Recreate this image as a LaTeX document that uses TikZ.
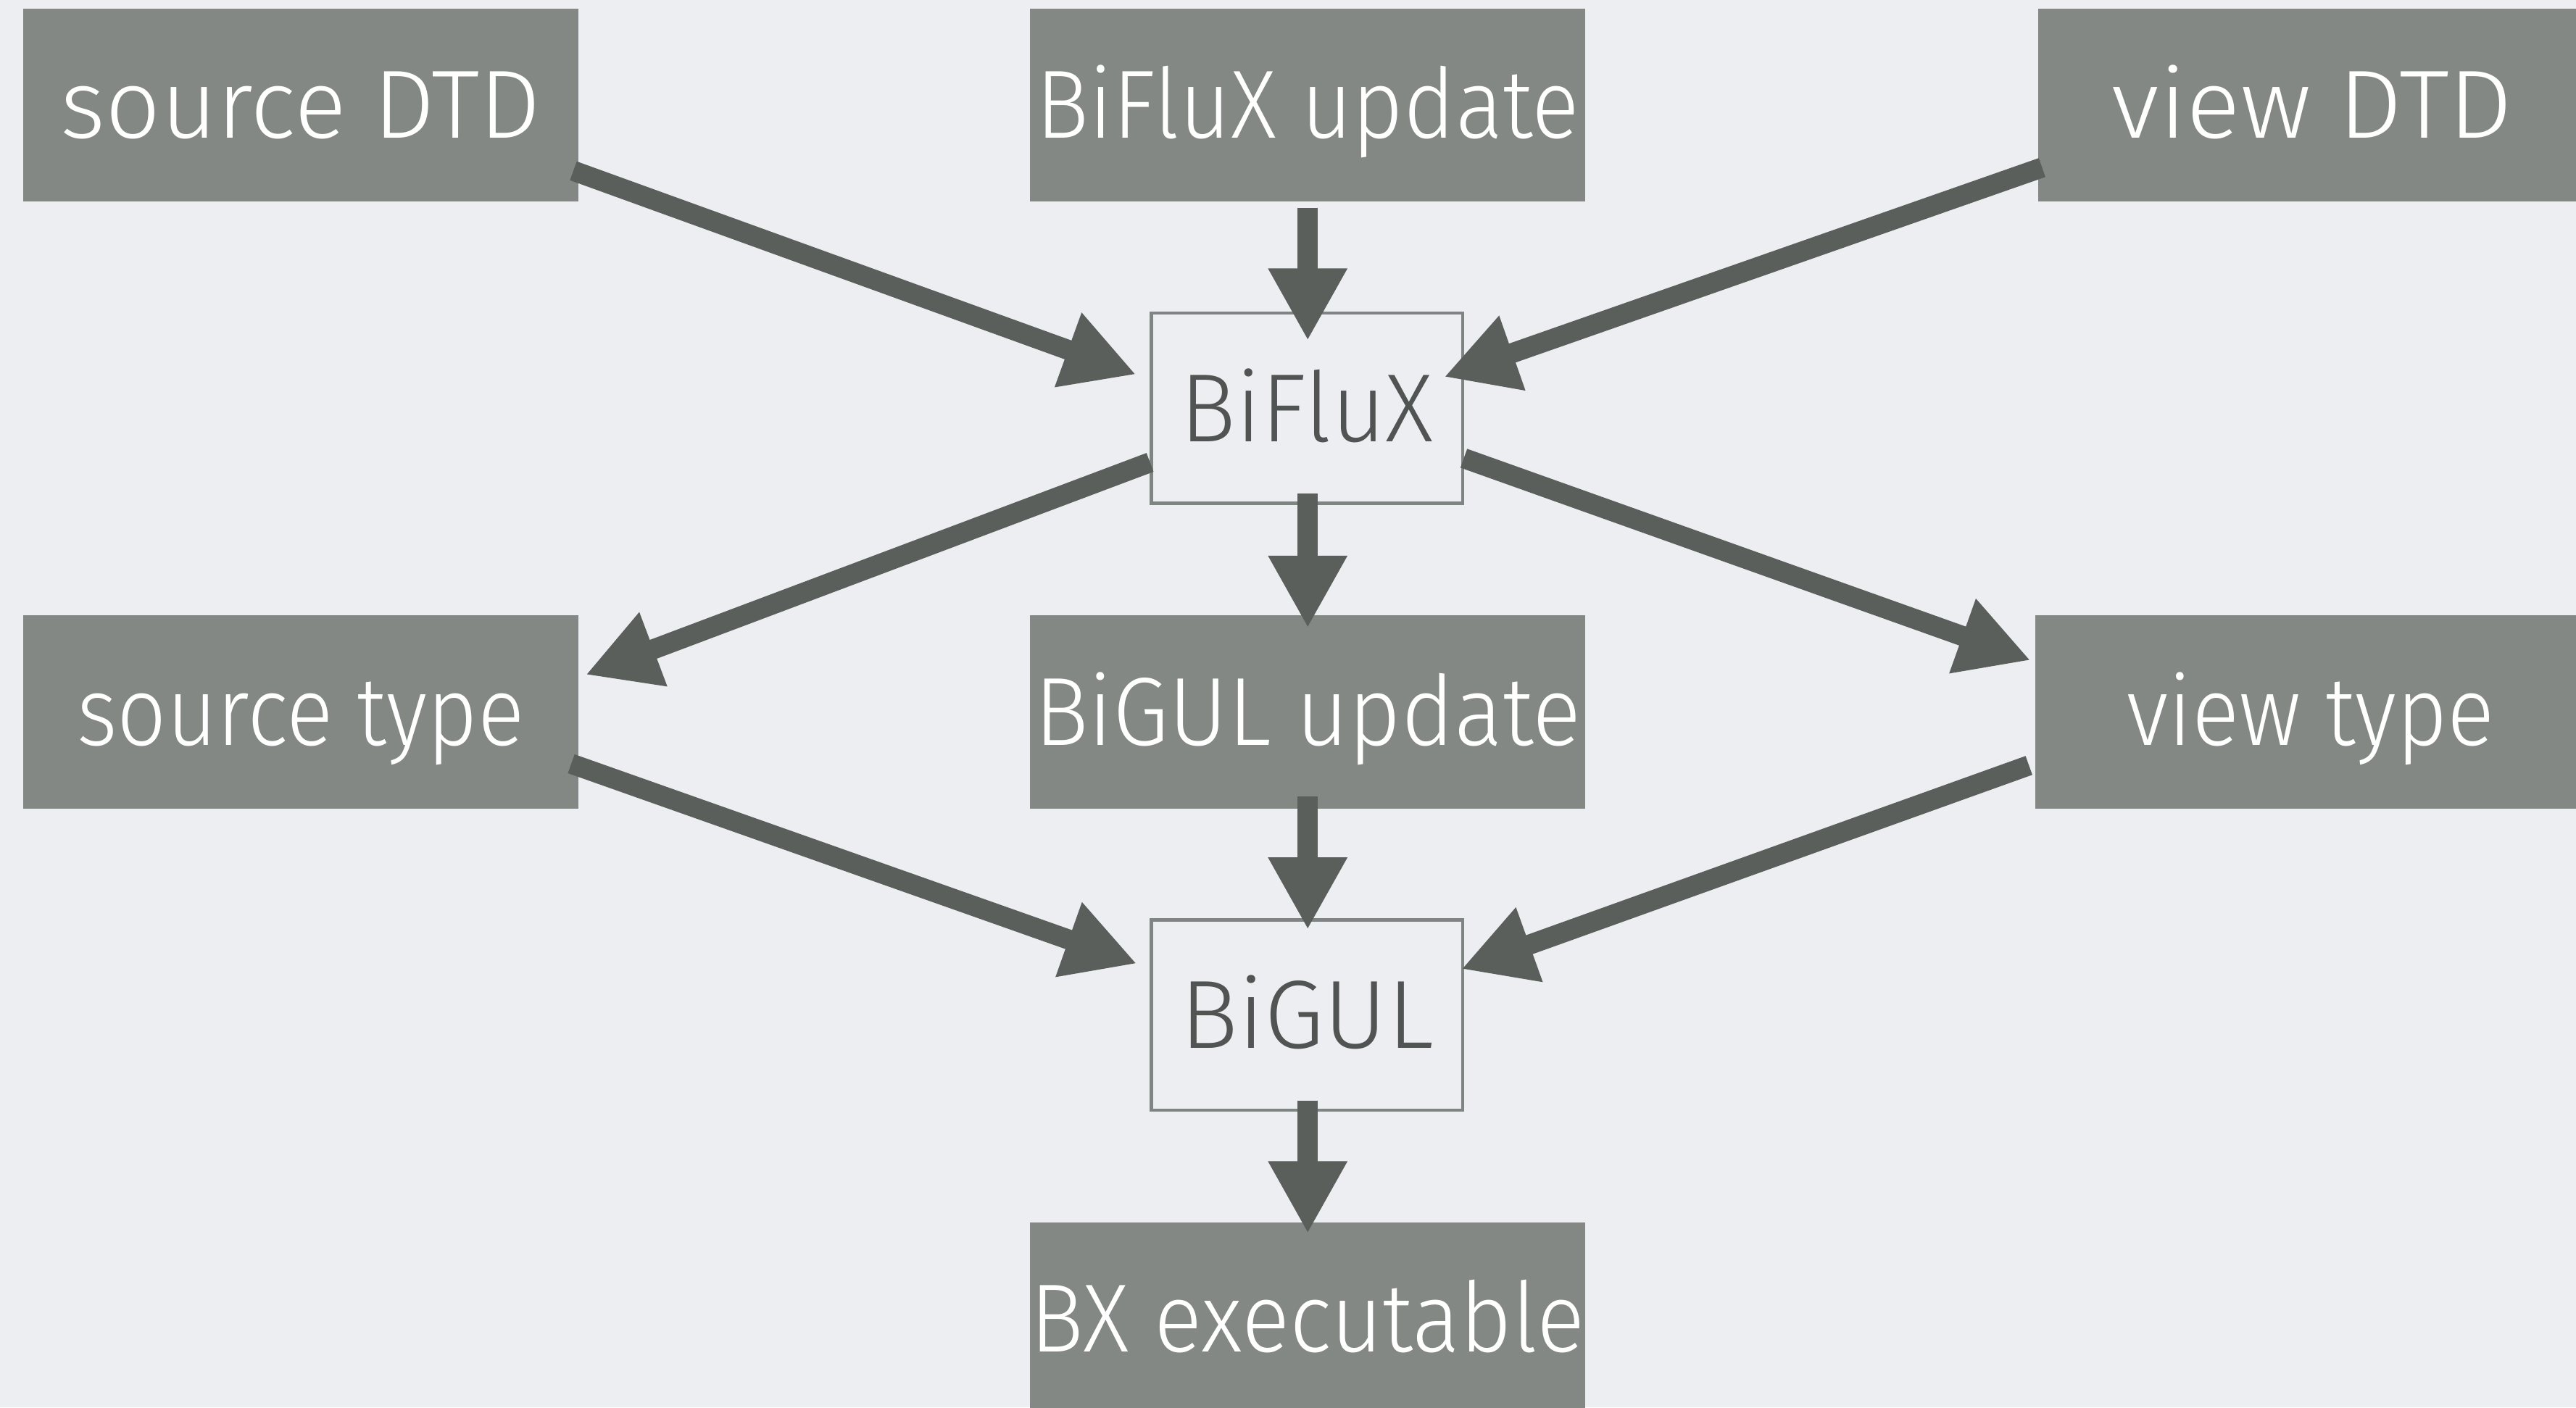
\documentclass[tikz,border=0pt]{standalone}
\usepackage{fontspec}
\setmainfont{Fira Sans Light}
\usetikzlibrary{arrows.meta,calc}
\definecolor{bgc}{HTML}{EDEEF1}
\definecolor{boxc}{HTML}{838884}
\definecolor{arrowc}{HTML}{5A5F5C}
\definecolor{framec}{HTML}{7E8582}
\definecolor{darktext}{HTML}{505452}
\newcommand{\lblfont}{\fontsize{59pt}{70pt}\selectfont}
\newcommand{\sx}[2]{\scalebox{#1}[1]{#2}}
\tikzset{
  filledbox/.style={rectangle, fill=boxc, text=white, inner sep=0pt, outer sep=0pt,
    minimum width=338pt, minimum height=117.7pt, font=\lblfont,
    text height=40.5pt, text depth=0pt},
  framebox/.style={rectangle, draw=framec, line width=1.9pt, text=darktext, inner sep=0pt,
    minimum width=189.4pt, minimum height=115.9pt, font=\lblfont,
    text height=40.5pt, text depth=0pt},
  conn/.style={draw=arrowc, line width=12.2pt, -{Triangle[length=44pt,width=45pt]}}
}
\begin{document}
\begin{tikzpicture}[x=1pt,y=-1pt]
\useasboundingbox (0,0) rectangle (1568,856.8);
\fill[bgc] (0,0) rectangle (1568,856.8);
% nodes
\node[filledbox] (sdtd) at (183,64) {\sx{1.0}{source DTD}};
\node[filledbox] (bfu) at (796,64) {\sx{0.913}{BiFluX update}};
\node[filledbox] (vdtd) at (1409.5,64) {\hspace*{-4pt}\sx{1.04}{view DTD}};
\node[framebox] (biflux) at (795.5,248.5) {\sx{0.96}{BiFluX}};
\node[filledbox] (stype) at (183,433.3) {\sx{0.897}{source type}};
\node[filledbox] (bgu) at (796,433.3) {\sx{0.934}{BiGUL update}};
\node[filledbox] (vtype) at (1408,433.3) {\hspace*{-3pt}\sx{0.909}{view type}};
\node[framebox] (bigul) at (795.5,618) {\sx{1.0}{BiGUL}};
\node[filledbox] (bx) at (796,803) {\sx{0.922}{BX executable}};
% connectors
\draw[conn] ($(sdtd)+(166,40)$) -- ($(biflux)+(-104,-20.5)$);
\draw[conn] ($(bfu)+(0,62.5)$) -- ($(biflux)+(0.5,-41.1)$);
\draw[conn] ($(vdtd)+(-166.5,38)$) -- ($(biflux)+(83.5,-19)$);
\draw[conn] ($(biflux)+(-95.5,33)$) -- ($(stype)+(173.5,-22.5)$);
\draw[conn] ($(biflux)+(0.5,52)$) -- ($(bgu)+(0,-51)$);
\draw[conn] ($(biflux)+(95.5,30.5)$) -- ($(vtype)+(-172,-31.3)$);
\draw[conn] ($(stype)+(164.7,31.7)$) -- ($(bigul)+(-103.5,-31.3)$);
\draw[conn] ($(bgu)+(0,51.5)$) -- ($(bigul)+(0.5,-52)$);
\draw[conn] ($(vtype)+(-173,32.7)$) -- ($(bigul)+(94,-28)$);
\draw[conn] ($(bigul)+(0.5,52)$) -- ($(bx)+(0,-52)$);
\end{tikzpicture}
\end{document}
